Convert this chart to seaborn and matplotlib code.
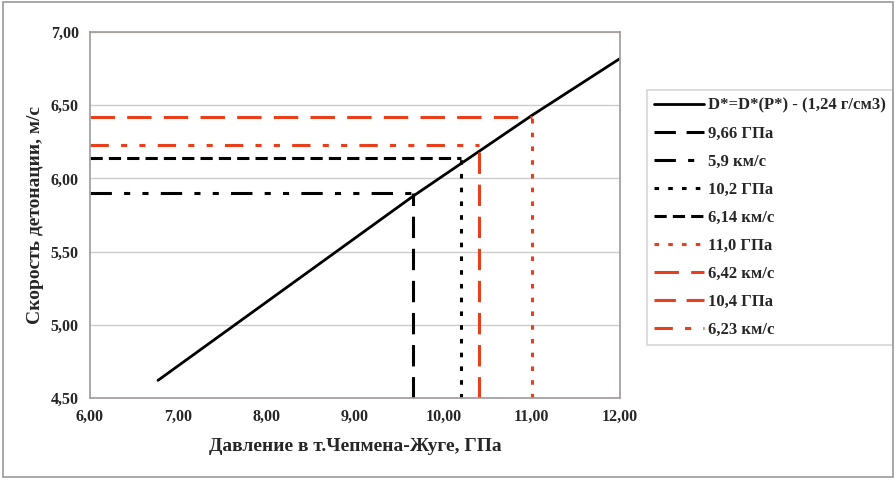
import matplotlib
matplotlib.use("Agg")
import matplotlib.pyplot as plt
import matplotlib.ticker as mticker
import pandas as pd
import seaborn as sns

# основная кривая D*=D*(P*)
p_main = [6.77, 9.66, 11.0, 12.0]
d_main = [4.62, 5.88, 6.43, 6.82]

# опорные точки (давление, скорость)
p_ref = [9.66, 10.2, 11.0, 10.4]
d_ref = [5.90, 6.14, 6.42, 6.23]
lab_p = ["9,66 ГПа", "10,2 ГПа", "11,0 ГПа", "10,4 ГПа"]
lab_d = ["5,9 км/с", "6,14 км/с", "6,42 км/с", "6,23 км/с"]
colors = ["black", "black", "#e8401c", "#e8401c"]
vstyle = [(0, (7, 3.5)), (0, (1.5, 3)), (0, (1.5, 3)), (0, (7, 3.5))]
hstyle = [(0, (7, 4, 2, 4, 2, 4)), (0, (4, 2)), (0, (8, 4)), (0, (6, 4, 2, 4, 2, 4))]

x_min, x_max = 6.0, 12.0
y_min, y_max = 4.5, 7.0

sns.set_style("white")
plt.rcParams["font.family"] = ["Liberation Serif", "DejaVu Serif"]

fig = plt.figure(figsize=(8.96, 4.8), dpi=100)
ax = fig.add_axes([0.1004, 0.171, 0.5916, 0.762])

df = pd.DataFrame({"p": p_main, "d": d_main})
sns.lineplot(data=df, x="p", y="d", ax=ax, color="black", lw=2.0,
             label="D*=D*(P*) - (1,24 г/см3)")

for i in range(len(p_ref)):
    sns.lineplot(x=[p_ref[i], p_ref[i]], y=[y_min, d_ref[i]], ax=ax,
                 estimator=None, sort=False, errorbar=None,
                 color=colors[i], lw=2.2, linestyle=vstyle[i], label=lab_p[i])
    sns.lineplot(x=[x_min, p_ref[i]], y=[d_ref[i], d_ref[i]], ax=ax,
                 estimator=None, sort=False, errorbar=None,
                 color=colors[i], lw=2.2, linestyle=hstyle[i], label=lab_d[i])

ax.set_xlim(x_min, x_max)
ax.set_ylim(y_min, y_max)
ax.set_xticks([6, 7, 8, 9, 10, 11, 12])
ax.set_yticks([4.5, 5.0, 5.5, 6.0, 6.5, 7.0])
fmt = mticker.FuncFormatter(lambda v, pos: f"{v:.2f}".replace(".", ","))
ax.xaxis.set_major_formatter(fmt)
ax.yaxis.set_major_formatter(fmt)
ax.grid(axis="y", color="#cccccc", lw=1)
ax.set_axisbelow(True)
for s in ax.spines.values():
    s.set_color("#a09a98")
    s.set_linewidth(1.2)
ax.tick_params(axis="both", labelsize=11.5, pad=8, length=0)
for t in ax.get_xticklabels() + ax.get_yticklabels():
    t.set_fontweight("bold")

ax.set_xlabel("Давление в т.Чепмена-Жуге, ГПа", fontsize=14, fontweight="bold", labelpad=9)
ax.set_ylabel("Скорость детонации, м/с", fontsize=14, fontweight="bold", labelpad=5)

leg = ax.legend(loc="upper left", bbox_to_anchor=(0.722, 0.8125),
                bbox_transform=fig.transFigure, borderaxespad=0, frameon=True,
                fancybox=False, prop={"size": 12, "weight": "bold"}, labelspacing=0.72,
                handlelength=3.0, handletextpad=0.2, borderpad=0.45)
leg.get_frame().set_edgecolor("#cccccc")
leg.get_frame().set_linewidth(1.2)

fig.patches.append(plt.Rectangle((0.003, 0.006), 0.994, 0.99, transform=fig.transFigure,
                                 fill=False, edgecolor="#999999", lw=1.2))

fig.savefig("out.png", dpi=100)
